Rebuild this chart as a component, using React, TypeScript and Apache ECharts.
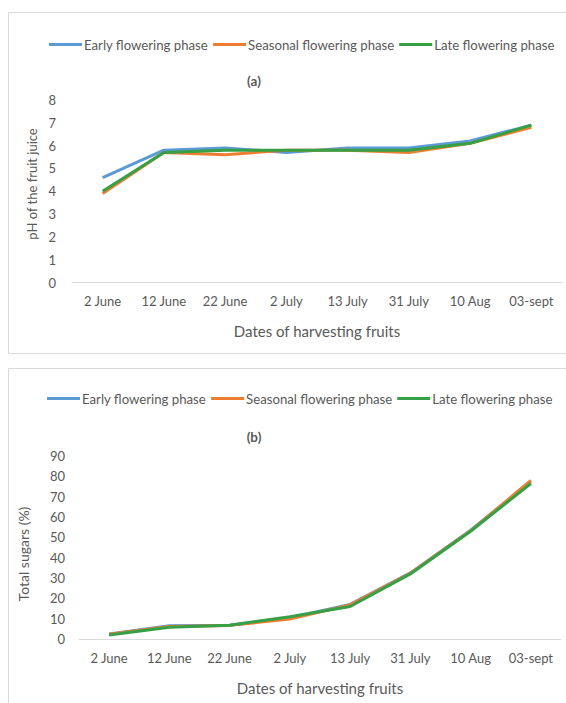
import React, { useEffect, useRef } from "react";
import * as echarts from "echarts";

const categories = ["2 June", "12 June", "22 June", "2 July", "13 July", "31 July", "10 Aug", "03-sept"];
const seriesNames = ["Early flowering phase", "Seasonal flowering phase", "Late flowering phase"];
const yNames = ["pH of the fruit juice", "Total sugars (%)"];
const xName = "Dates of harvesting fruits";

const phEarly = [4.6, 5.8, 5.9, 5.7, 5.9, 5.9, 6.2, 6.9];
const phSeasonal = [3.9, 5.7, 5.6, 5.8, 5.8, 5.7, 6.1, 6.8];
const phLate = [4.0, 5.7, 5.8, 5.8, 5.8, 5.8, 6.1, 6.9];

const sugarEarly = [2.5, 6.5, 6.8, 10.5, 17, 32.5, 53.5, 77.5];
const sugarSeasonal = [2.3, 6.2, 6.7, 9.8, 16.8, 32.3, 53.2, 78];
const sugarLate = [2.0, 5.8, 6.8, 10.9, 16.0, 32, 53, 76.5];

const colors = ["#5B9BD5", "#ED7D31", "#35A045"];
const FONT = "Lato, 'Open Sans', sans-serif";
const TXT = "#595959";

export default function App() {
  const ref = useRef<HTMLDivElement>(null);
  useEffect(() => {
    if (!ref.current) return;
    const chart = echarts.init(ref.current, undefined, { renderer: "svg" });
    const mkX = (gridIndex: number) => ({
      type: "category",
      gridIndex,
      data: categories,
      boundaryGap: true,
      axisLine: { show: true, lineStyle: { color: "#d9d9d9", width: 1 } },
      axisTick: { show: false },
      axisLabel: { color: TXT, fontSize: 13, fontFamily: FONT, margin: 12, interval: 0 },
      name: xName,
      nameLocation: "middle",
      nameGap: 41,
      nameTextStyle: { color: TXT, fontSize: 15, fontFamily: FONT },
    });
    const mkY = (gridIndex: number, max: number, interval: number, lm: number) => ({
      type: "value",
      gridIndex,
      min: 0,
      max,
      interval,
      axisLine: { show: false },
      axisTick: { show: false },
      splitLine: { show: false },
      axisLabel: { color: TXT, fontSize: 13, fontFamily: FONT, margin: lm },
    });
    const mkSeries = (idx: number, xi: number, data: number[]) => ({
      type: "line",
      name: seriesNames[idx],
      xAxisIndex: xi,
      yAxisIndex: xi,
      data,
      symbol: "none",
      lineStyle: { color: colors[idx], width: 3 },
      itemStyle: { color: colors[idx] },
    });
    const mkLegend = (top: number, left: number) => ({
      top,
      left,
      width: 540,
      icon: "rect",
      itemWidth: 33,
      itemHeight: 3,
      itemGap: 5,
      textStyle: { color: TXT, fontSize: 13.2, fontFamily: FONT, padding: [0, 0, 0, -3] },
      data: seriesNames,
    });
    const yTitle = (x: number, y: number, text: string, size: number) => ({
      type: "text",
      x,
      y,
      rotation: Math.PI / 2,
      style: { text, fill: TXT, font: `${size}px ${FONT}`, textAlign: "center", textVerticalAlign: "middle" },
    });
    chart.setOption({
      animation: false,
      color: colors,
      graphic: [
        { type: "rect", z: -10, shape: { x: 8.5, y: 12.5, width: 570, height: 341 }, style: { fill: "#fff", stroke: "#d9d9d9", lineWidth: 1 } },
        { type: "rect", z: -10, shape: { x: 8.5, y: 368.5, width: 570, height: 345 }, style: { fill: "#fff", stroke: "#d9d9d9", lineWidth: 1 } },
        { type: "text", x: 254, y: 81, style: { text: "(a)", fill: TXT, font: `bold 13.5px ${FONT}`, textAlign: "center", textVerticalAlign: "middle" } },
        { type: "text", x: 254, y: 437, style: { text: "(b)", fill: TXT, font: `bold 13.5px ${FONT}`, textAlign: "center", textVerticalAlign: "middle" } },
        yTitle(32, 184, yNames[0], 13),
        yTitle(23, 554, yNames[1], 14),
      ],
      legend: [mkLegend(33, 44), mkLegend(387, 42)],
      grid: [
        { left: 72, right: 4, top: 100, bottom: 703 - 282.5, containLabel: false },
        { left: 79, right: 5, top: 456, bottom: 703 - 639, containLabel: false },
      ],
      xAxis: [mkX(0), mkX(1)],
      yAxis: [mkY(0, 8, 1, 16), mkY(1, 90, 10, 14)],
      series: [
        mkSeries(0, 0, phEarly),
        mkSeries(1, 0, phSeasonal),
        mkSeries(2, 0, phLate),
        mkSeries(0, 1, sugarEarly),
        mkSeries(1, 1, sugarSeasonal),
        mkSeries(2, 1, sugarLate),
      ],
    });
    return () => chart.dispose();
  }, []);
  return <div ref={ref} style={{ position: "absolute", left: 0, top: 0, width: 566, height: 703 }} />;
}
